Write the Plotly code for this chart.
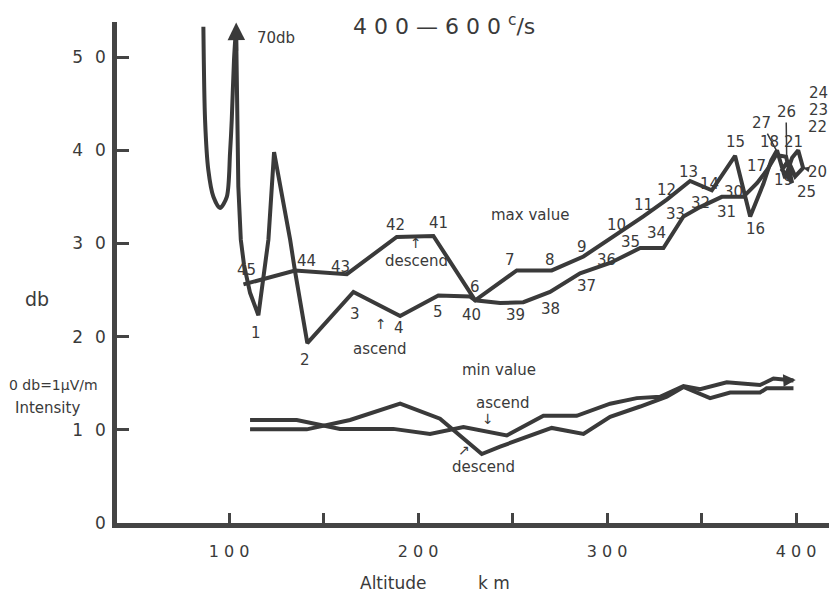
import plotly.graph_objects as go

# ---- data (altitude km, intensity db) ----
approach_km = [86.4, 87.3, 89.0, 91.7, 95.2, 98.8, 100.5, 101.4, 102.6, 103.7]
approach_db = [53.25, 43.2, 37.9, 35.0, 33.8, 35.0, 39.7, 43.2, 49.7, 53.2]

asc_max_km = [103.7, 104.1, 104.9, 106.2, 107.9, 111.1, 115.5, 120.8, 123.8, 132.3, 134.9, 141.4,
              165.8, 190.5, 210.7, 227.5, 230.2, 252.2, 270.7, 287.5, 301.6, 319.2, 331.6, 343.9,
              355.4, 367.7, 375.7, 382.7, 386.8, 389.9, 394.2, 397.9, 401.1, 403.7, 399.5, 395.8,
              392.6, 397.9, 394.7, 389.4]
asc_max_db = [53.2, 43.2, 36.1, 30.4, 27.7, 24.7, 22.3, 30.4, 39.8, 30.4, 27.0, 19.3,
              24.8, 22.2, 24.4, 24.3, 23.9, 27.1, 27.1, 28.6, 30.5, 32.9, 34.7, 36.7,
              35.7, 39.4, 32.9, 36.4, 38.9, 40.0, 37.0, 39.2, 40.0, 38.1, 37.2, 38.9,
              37.9, 36.5, 39.3, 39.5]

desc_max_km = [389.4, 384.7, 379.4, 372.1, 360.7, 349.2, 340.4, 329.8, 317.5, 301.6, 285.7,
               269.8, 255.7, 243.4, 230.2, 208.1, 188.7, 162.3, 134.9, 107.6]
desc_max_db = [39.5, 37.9, 36.5, 35.0, 35.0, 33.9, 32.9, 29.5, 29.5, 27.9, 26.8,
               24.8, 23.7, 23.6, 23.9, 30.8, 30.7, 26.7, 27.1, 25.6]

asc_min_km = [111.1, 135.8, 158.7, 186.9, 206.3, 224.0, 246.9, 266.3, 283.9, 301.6, 315.7,
              328.0, 340.4, 349.2, 363.3, 380.9, 388.0, 398.6]
asc_min_db = [11.05, 11.05, 10.1, 10.1, 9.55, 10.3, 9.4, 11.5, 11.5, 12.8, 13.4,
              13.55, 14.7, 14.35, 15.1, 14.8, 15.5, 15.3]

desc_min_km = [111.1, 141.1, 164.0, 190.5, 211.6, 218.7, 233.7, 243.4, 270.7, 287.5, 301.6,
               317.5, 331.6, 340.4, 354.5, 365.1, 380.9, 384.4, 398.6]
desc_min_db = [10.05, 10.05, 11.05, 12.8, 11.2, 10.0, 7.4, 8.2, 10.2, 9.55, 11.4,
               12.5, 13.55, 14.6, 13.4, 14.0, 14.0, 14.45, 14.45]

# point number labels
pt_text = ["1", "2", "3", "4", "5", "6", "7", "8", "9", "10", "11", "12", "13", "14", "15",
           "16", "17", "18", "19", "21", "22", "23", "24", "25",
           "30", "31", "32", "33", "34", "35", "36", "37", "38", "39", "40",
           "41", "42", "43", "44", "45"]
pt_km = [114.3, 140.2, 166.7, 190.1, 210.7, 230.2, 248.7, 269.8, 286.6, 305.1, 319.2, 331.6,
         343.0, 354.0, 367.7, 378.3, 379.2, 385.7, 393.3, 398.4, 411.2, 411.8, 411.8, 405.7,
         366.8, 363.3, 349.2, 336.0, 326.3, 312.2, 299.8, 288.9, 269.8, 251.3, 228.4,
         210.7, 187.8, 158.7, 140.7, 109.4]
pt_db = [20.35, 17.5, 22.4, 20.9, 22.6, 25.3, 28.2, 28.2, 29.6, 32.0, 34.1, 35.7,
         37.7, 36.4, 40.9, 31.6, 38.3, 40.9, 36.8, 40.9, 42.5, 44.3, 46.1, 35.5,
         35.5, 33.4, 34.3, 33.2, 31.1, 30.1, 28.2, 25.4, 23.0, 22.3, 22.3,
         32.2, 32.0, 27.5, 28.1, 27.1]

x_ticks = [100, 150, 200, 250, 300, 350, 400]
x_tick_text = ["1 0 0", "", "2 0 0", "", "3 0 0", "", "4 0 0"]
y_ticks = [0, 10, 20, 30, 40, 50]
y_tick_text = ["0", "1\u2002\u20090", "2\u2002\u20090", "3\u2002\u20090", "4\u2002\u20090", "5\u2002\u20090"]

INK = "#3a3a3a"
FONT = "DejaVu Sans"
LW = 4

fig = go.Figure()
fig.add_trace(go.Scatter(x=approach_km, y=approach_db, mode="lines",
                         line=dict(color=INK, width=LW, shape="spline", smoothing=0.8),
                         hoverinfo="skip"))
for xs, ys in [(asc_max_km, asc_max_db), (desc_max_km, desc_max_db),
               (asc_min_km, asc_min_db), (desc_min_km, desc_min_db)]:
    fig.add_trace(go.Scatter(x=xs, y=ys, mode="lines",
                             line=dict(color=INK, width=LW), hoverinfo="skip"))

ann = []
for t, xv, yv in zip(pt_text, pt_km, pt_db):
    ann.append(dict(x=xv, y=yv, text=t, showarrow=False, xanchor="center", yanchor="middle",
                    font=dict(family=FONT, size=15, color=INK)))

def txt(x, y, s, size=15, xref="x", yref="y"):
    ann.append(dict(x=x, y=y, text=s, showarrow=False, xref=xref, yref=yref,
                    xanchor="center", yanchor="middle",
                    font=dict(family=FONT, size=size, color=INK)))

txt(213.5, 53.4, "4 0 0 — 6 0 0 <sup>c</sup>/s", 22)
txt(124.6, 52.0, "70db", 15)
txt(259.3, 33.0, "max value", 15)
txt(199.3, 28.1, "descend", 15)
txt(198.9, 30.0, "↑", 14)
txt(179.9, 18.7, "ascend", 15)
txt(180.4, 21.4, "↑", 14)
txt(242.9, 16.4, "min value", 15)
txt(245.1, 12.85, "ascend", 15)
txt(237.2, 11.2, "↓", 14)
txt(234.4, 6.0, "descend", 15)
txt(224.3, 7.8, "↗", 14)
txt(-0.1124, 0.447, "db", 19, "paper", "paper")
txt(-0.0885, 0.2754, "0 db=1μV/m", 14, "paper", "paper")
txt(-0.0983, 0.2295, "Intensity", 15, "paper", "paper")
txt(0.387, -0.12, "Altitude", 17, "paper", "paper")
txt(0.529, -0.12, "k m", 17, "paper", "paper")

# arrows / leaders
arrow = dict(showarrow=True, arrowcolor=INK, xref="x", yref="y", axref="x", ayref="y", text="")
ann.append(dict(arrow, x=103.75, y=53.7, ax=103.9, ay=50.5, arrowhead=2, arrowsize=1, arrowwidth=3.5))
ann.append(dict(arrow, x=399.8, y=15.35, ax=395.0, ay=15.3, arrowhead=2, arrowsize=1, arrowwidth=2.5))
ann.append(dict(x=389.5, y=40.0, ax=381.8, ay=42.9, text="27", showarrow=True, arrowhead=0,
                arrowwidth=1.5, arrowcolor=INK, xref="x", yref="y", axref="x", ayref="y",
                font=dict(family=FONT, size=15, color=INK)))
ann.append(dict(x=395.0, y=39.5, ax=394.7, ay=44.1, text="26", showarrow=True, arrowhead=0,
                arrowwidth=1.5, arrowcolor=INK, xref="x", yref="y", axref="x", ayref="y",
                font=dict(family=FONT, size=15, color=INK)))
ann.append(dict(x=403.9, y=38.1, ax=411.5, ay=37.7, text="20", showarrow=True, arrowhead=2,
                arrowsize=0.8, arrowwidth=1.5, arrowcolor=INK, xref="x", yref="y", axref="x",
                ayref="y", font=dict(family=FONT, size=15, color=INK)))

fig.update_layout(
    width=829, height=596,
    margin=dict(l=117, r=0, t=22, b=73),
    paper_bgcolor="white", plot_bgcolor="white",
    showlegend=False,
    annotations=ann,
    xaxis=dict(range=[40.7, 417.4], showgrid=False, zeroline=False, showline=True,
               linecolor="#444444", linewidth=4.5, ticks="inside", ticklen=10, tickwidth=2.5,
               tickcolor="#444444", tickvals=x_ticks, ticktext=x_tick_text,
               tickfont=dict(family=FONT, size=16, color=INK), ticklabelstandoff=10),
    yaxis=dict(range=[0, 53.76], showgrid=False, zeroline=False, showline=True,
               linecolor="#444444", linewidth=4.5, ticks="inside", ticklen=12, tickwidth=2.5,
               tickcolor="#444444", tickvals=y_ticks, ticktext=y_tick_text,
               tickfont=dict(family=FONT, size=17, color=INK), ticklabelstandoff=3),
)

fig.write_html("out.html")
